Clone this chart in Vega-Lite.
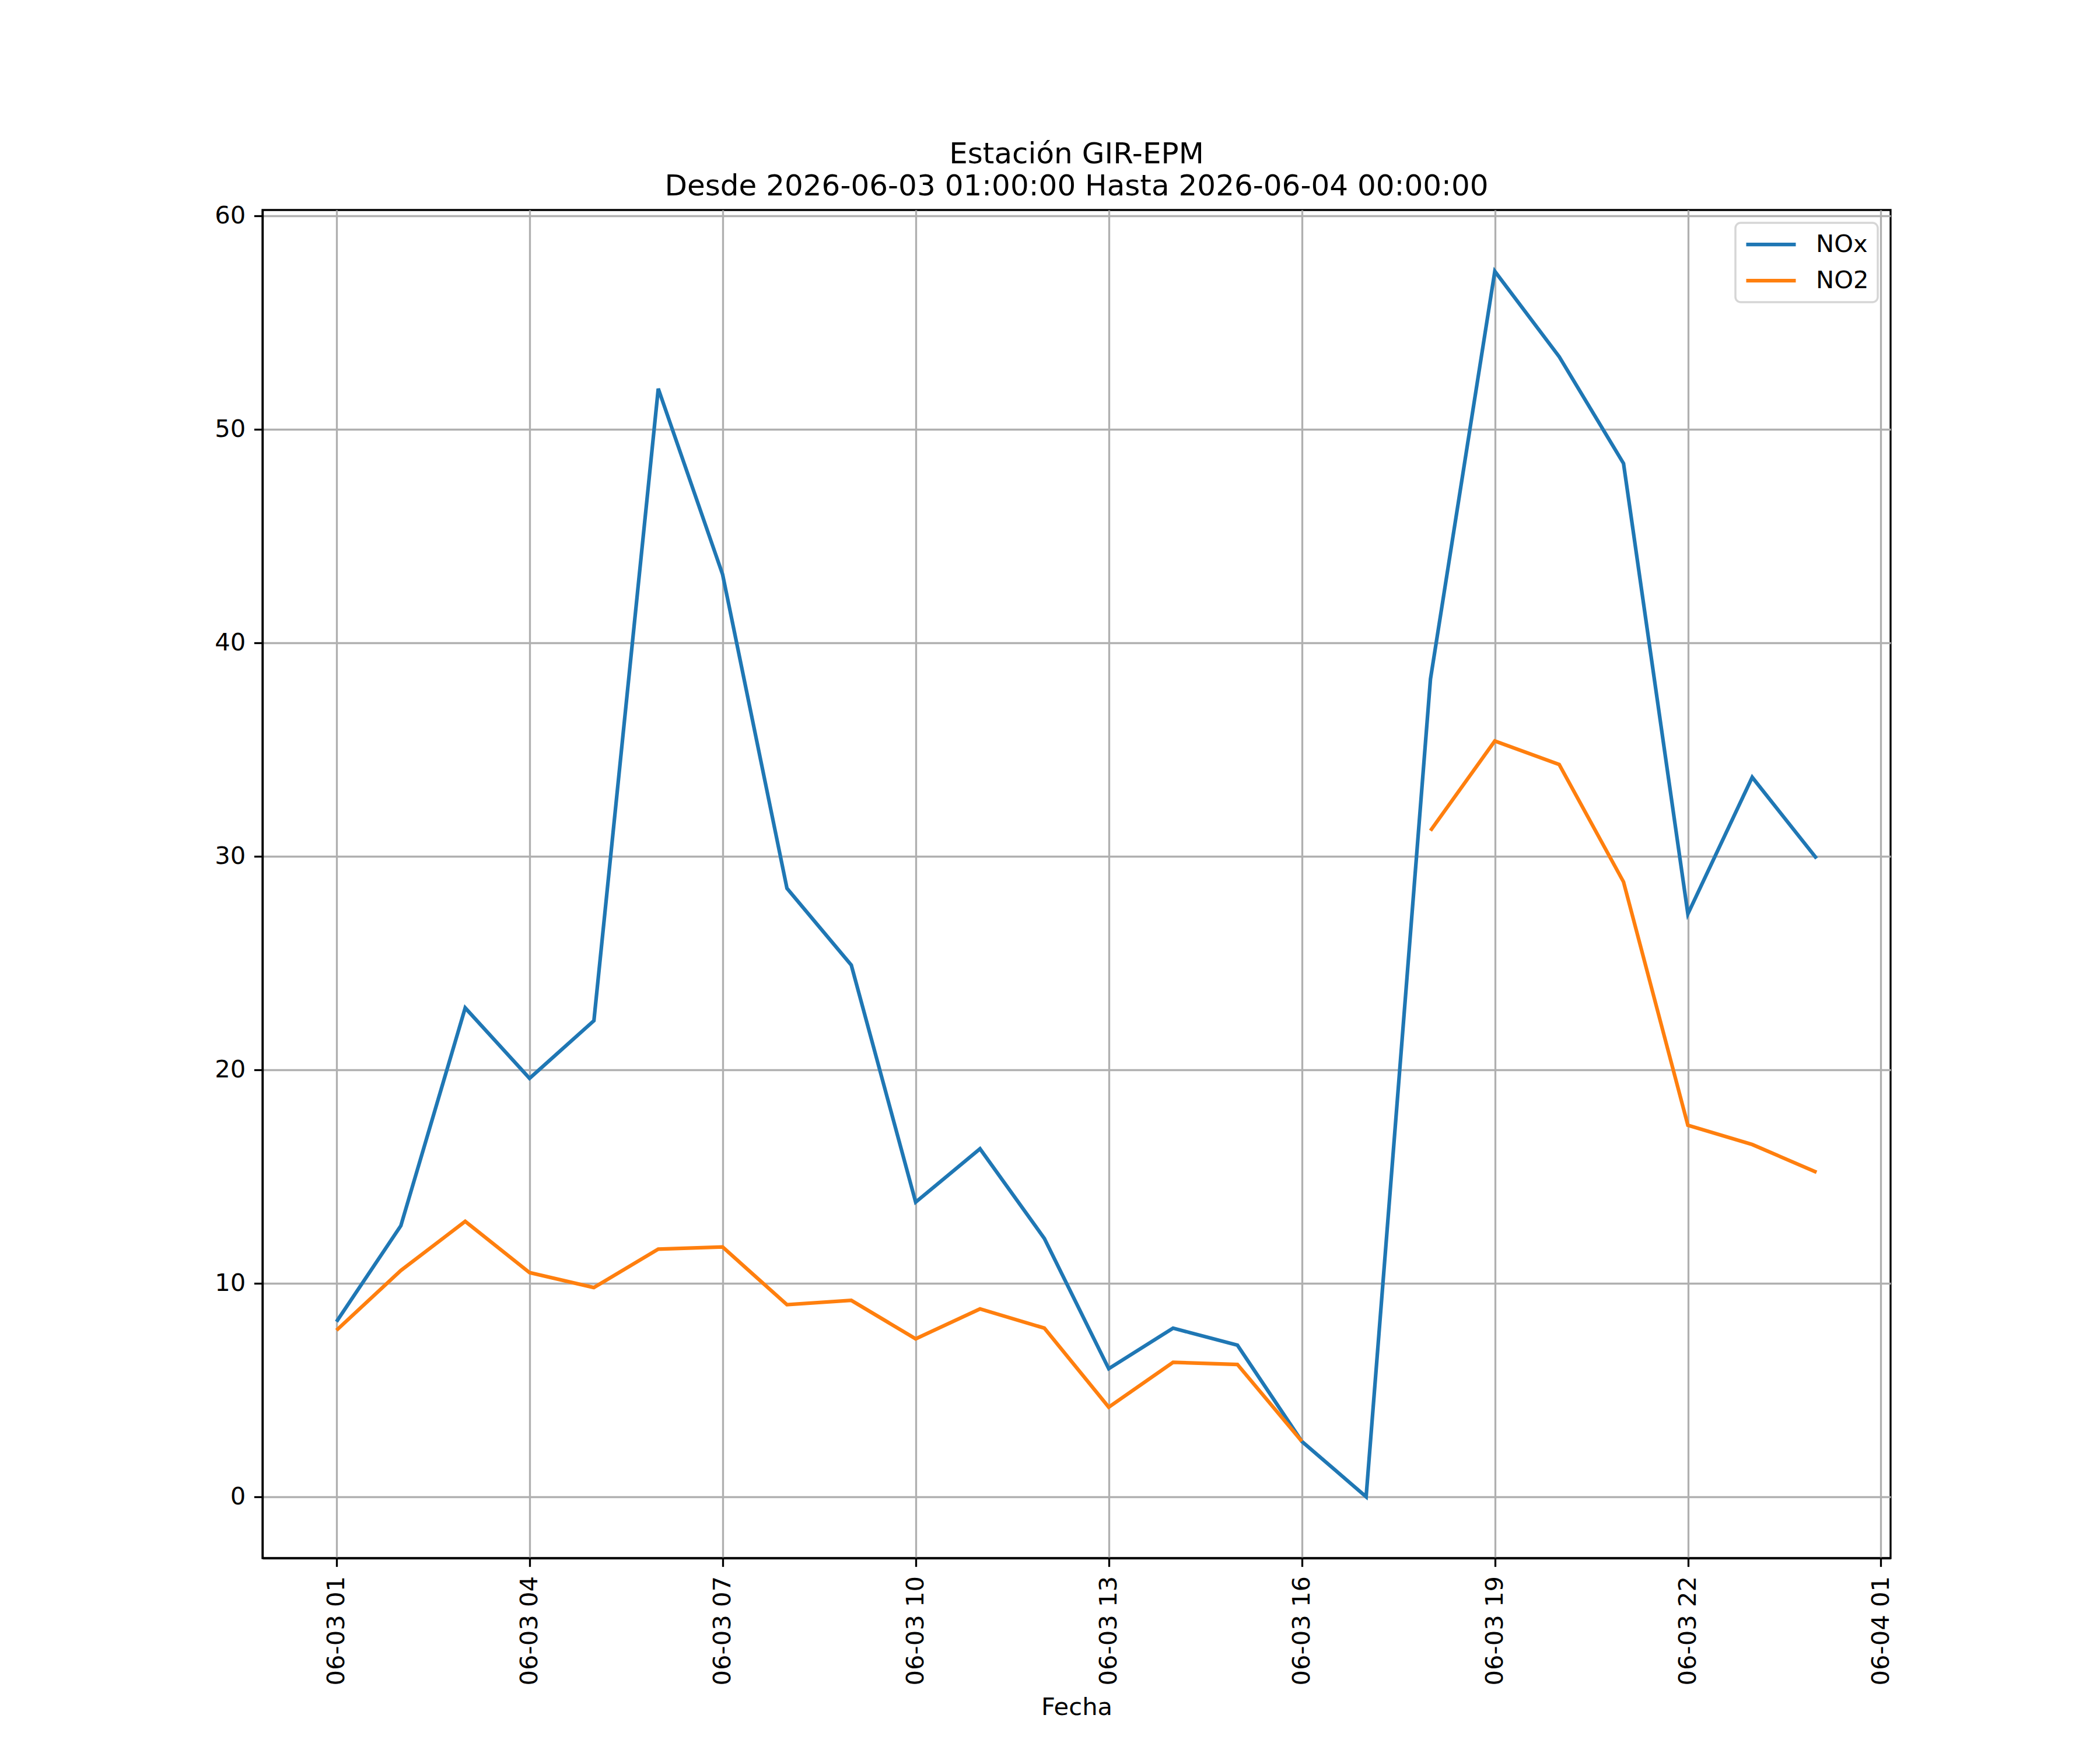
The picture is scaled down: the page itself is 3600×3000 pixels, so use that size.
{
  "$schema": "https://vega.github.io/schema/vega-lite/v6.json",
  "autosize": {"type": "none"},
  "padding": {"left": 450, "top": 360, "right": 359, "bottom": 329},
  "width": 2791,
  "height": 2311,
  "background": "white",
  "title": {
    "text": ["Estación GIR-EPM", "Desde 2026-06-03 01:00:00 Hasta 2026-06-04 00:00:00"],
    "font": "DejaVu Sans",
    "fontSize": 50,
    "fontWeight": "normal",
    "color": "black",
    "anchor": "middle",
    "lineHeight": 55,
    "offset": 5
  },
  "data": {
    "values": [
      {"fecha": "2026-06-03T01:00:00Z", "contaminante": "NOx", "valor": 8.2},
      {"fecha": "2026-06-03T02:00:00Z", "contaminante": "NOx", "valor": 12.7},
      {"fecha": "2026-06-03T03:00:00Z", "contaminante": "NOx", "valor": 22.9},
      {"fecha": "2026-06-03T04:00:00Z", "contaminante": "NOx", "valor": 19.6},
      {"fecha": "2026-06-03T05:00:00Z", "contaminante": "NOx", "valor": 22.3},
      {"fecha": "2026-06-03T06:00:00Z", "contaminante": "NOx", "valor": 51.9},
      {"fecha": "2026-06-03T07:00:00Z", "contaminante": "NOx", "valor": 43.2},
      {"fecha": "2026-06-03T08:00:00Z", "contaminante": "NOx", "valor": 28.5},
      {"fecha": "2026-06-03T09:00:00Z", "contaminante": "NOx", "valor": 24.9},
      {"fecha": "2026-06-03T10:00:00Z", "contaminante": "NOx", "valor": 13.8},
      {"fecha": "2026-06-03T11:00:00Z", "contaminante": "NOx", "valor": 16.3},
      {"fecha": "2026-06-03T12:00:00Z", "contaminante": "NOx", "valor": 12.1},
      {"fecha": "2026-06-03T13:00:00Z", "contaminante": "NOx", "valor": 6.0},
      {"fecha": "2026-06-03T14:00:00Z", "contaminante": "NOx", "valor": 7.9},
      {"fecha": "2026-06-03T15:00:00Z", "contaminante": "NOx", "valor": 7.1},
      {"fecha": "2026-06-03T16:00:00Z", "contaminante": "NOx", "valor": 2.6},
      {"fecha": "2026-06-03T17:00:00Z", "contaminante": "NOx", "valor": 0.0},
      {"fecha": "2026-06-03T18:00:00Z", "contaminante": "NOx", "valor": 38.3},
      {"fecha": "2026-06-03T19:00:00Z", "contaminante": "NOx", "valor": 57.4},
      {"fecha": "2026-06-03T20:00:00Z", "contaminante": "NOx", "valor": 53.4},
      {"fecha": "2026-06-03T21:00:00Z", "contaminante": "NOx", "valor": 48.4},
      {"fecha": "2026-06-03T22:00:00Z", "contaminante": "NOx", "valor": 27.3},
      {"fecha": "2026-06-03T23:00:00Z", "contaminante": "NOx", "valor": 33.7},
      {"fecha": "2026-06-04T00:00:00Z", "contaminante": "NOx", "valor": 29.9},
      {"fecha": "2026-06-03T01:00:00Z", "contaminante": "NO2", "valor": 7.8},
      {"fecha": "2026-06-03T02:00:00Z", "contaminante": "NO2", "valor": 10.6},
      {"fecha": "2026-06-03T03:00:00Z", "contaminante": "NO2", "valor": 12.9},
      {"fecha": "2026-06-03T04:00:00Z", "contaminante": "NO2", "valor": 10.5},
      {"fecha": "2026-06-03T05:00:00Z", "contaminante": "NO2", "valor": 9.8},
      {"fecha": "2026-06-03T06:00:00Z", "contaminante": "NO2", "valor": 11.6},
      {"fecha": "2026-06-03T07:00:00Z", "contaminante": "NO2", "valor": 11.7},
      {"fecha": "2026-06-03T08:00:00Z", "contaminante": "NO2", "valor": 9.0},
      {"fecha": "2026-06-03T09:00:00Z", "contaminante": "NO2", "valor": 9.2},
      {"fecha": "2026-06-03T10:00:00Z", "contaminante": "NO2", "valor": 7.4},
      {"fecha": "2026-06-03T11:00:00Z", "contaminante": "NO2", "valor": 8.8},
      {"fecha": "2026-06-03T12:00:00Z", "contaminante": "NO2", "valor": 7.9},
      {"fecha": "2026-06-03T13:00:00Z", "contaminante": "NO2", "valor": 4.2},
      {"fecha": "2026-06-03T14:00:00Z", "contaminante": "NO2", "valor": 6.3},
      {"fecha": "2026-06-03T15:00:00Z", "contaminante": "NO2", "valor": 6.2},
      {"fecha": "2026-06-03T16:00:00Z", "contaminante": "NO2", "valor": 2.6},
      {"fecha": "2026-06-03T17:00:00Z", "contaminante": "NO2", "valor": null},
      {"fecha": "2026-06-03T18:00:00Z", "contaminante": "NO2", "valor": 31.2},
      {"fecha": "2026-06-03T19:00:00Z", "contaminante": "NO2", "valor": 35.4},
      {"fecha": "2026-06-03T20:00:00Z", "contaminante": "NO2", "valor": 34.3},
      {"fecha": "2026-06-03T21:00:00Z", "contaminante": "NO2", "valor": 28.8},
      {"fecha": "2026-06-03T22:00:00Z", "contaminante": "NO2", "valor": 17.4},
      {"fecha": "2026-06-03T23:00:00Z", "contaminante": "NO2", "valor": 16.5},
      {"fecha": "2026-06-04T00:00:00Z", "contaminante": "NO2", "valor": 15.2}
    ]
  },
  "mark": {"type": "line", "strokeWidth": 6.25, "clip": true},
  "encoding": {
    "x": {
      "field": "fecha",
      "type": "temporal",
      "title": "Fecha",
      "scale": {
        "type": "utc",
        "domain": [1780444260000, 1780535340000]
      },
      "axis": {
        "values": [1780448400000, 1780459200000, 1780470000000, 1780480800000, 1780491600000, 1780502400000, 1780513200000, 1780524000000, 1780534800000],
        "format": "%m-%d %H",
        "labelAngle": 270,
        "labelPadding": 16,
        "labelLimit": 600,
        "titlePadding": 35
      }
    },
    "y": {
      "field": "valor",
      "type": "quantitative",
      "title": null,
      "scale": {"domain": [-2.87, 60.27], "nice": false, "zero": false},
      "axis": {"values": [0, 10, 20, 30, 40, 50, 60]}
    },
    "color": {
      "field": "contaminante",
      "type": "nominal",
      "sort": ["NOx", "NO2"],
      "scale": {"domain": ["NOx", "NO2"], "range": ["#1f77b4", "#ff7f0e"]},
      "legend": {
        "title": null,
        "orient": "top-right",
        "offset": 22,
        "symbolType": "stroke",
        "symbolSize": 7225,
        "symbolStrokeWidth": 6.25,
        "clipHeight": 44,
        "labelFontSize": 41.67,
        "labelFont": "DejaVu Sans",
        "labelColor": "black",
        "labelOffset": 31,
        "rowPadding": 18,
        "padding": 15,
        "strokeColor": "#d6d6d6",
        "cornerRadius": 9,
        "fillColor": "rgba(255,255,255,0.8)",
        "encode": {"legend": {"update": {"strokeWidth": {"value": 3.5}}}}
      }
    }
  },
  "config": {
    "view": {"stroke": "black", "strokeWidth": 3.3},
    "axis": {
      "labelFont": "DejaVu Sans",
      "labelFontSize": 41.67,
      "labelColor": "black",
      "titleFont": "DejaVu Sans",
      "titleFontSize": 41.67,
      "titleFontWeight": "normal",
      "titleColor": "black",
      "domainColor": "black",
      "domainWidth": 3.3,
      "tickColor": "black",
      "tickWidth": 3.3,
      "tickSize": 14.6,
      "labelPadding": 14.6,
      "grid": true,
      "gridColor": "#b0b0b0",
      "gridWidth": 3.3,
      "labelFlush": false,
      "labelOverlap": false
    }
  }
}
